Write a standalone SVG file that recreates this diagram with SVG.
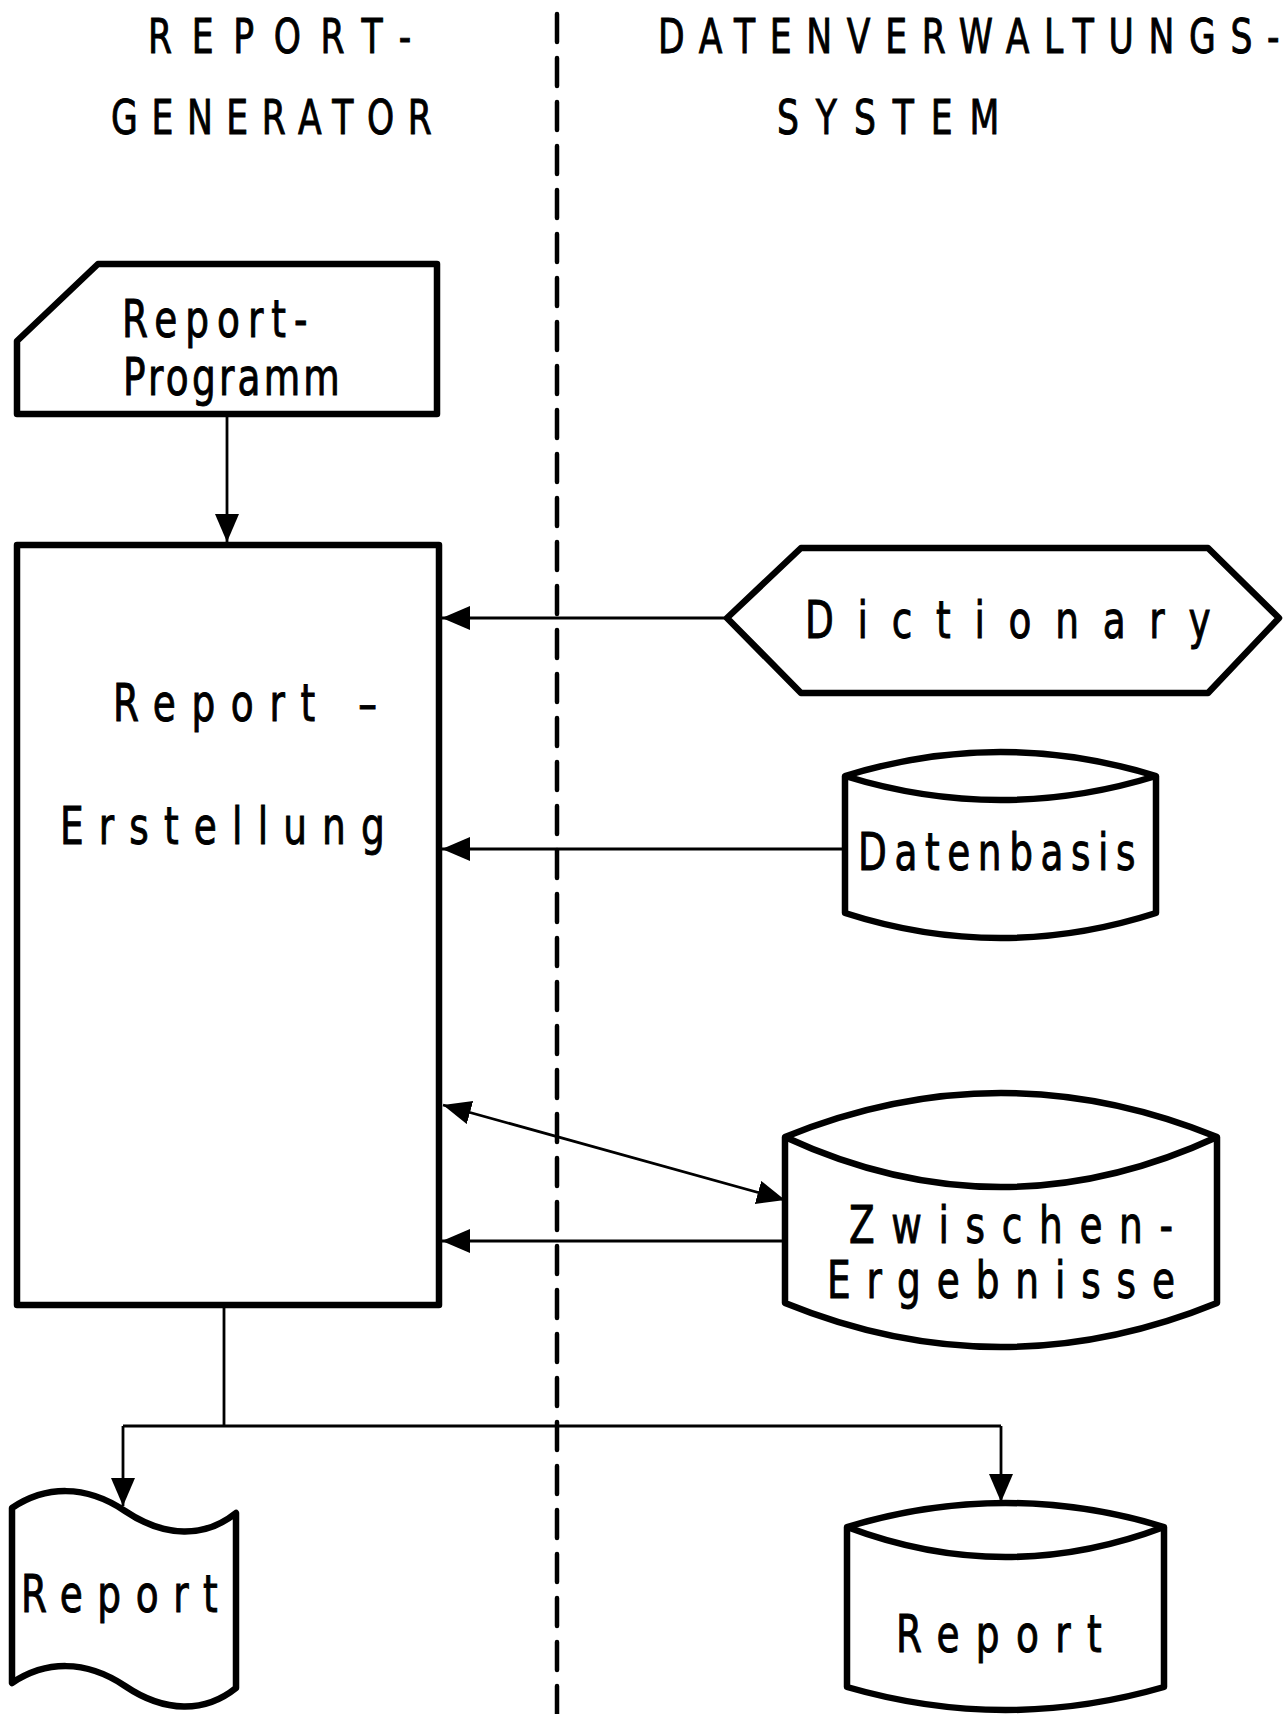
<svg xmlns="http://www.w3.org/2000/svg" width="1284" height="1714" viewBox="0 0 1284 1714">
<style>
.shape{fill:#fff;stroke:#000;stroke-width:6.5;stroke-linejoin:round}
.inner{fill:none;stroke:#000;stroke-width:6.5}
.conn{fill:none;stroke:#000;stroke-width:2.8}
.lbl{font-family:'DejaVu Sans Condensed','Liberation Sans Narrow','DejaVu Sans',sans-serif;fill:#000;stroke:#000;stroke-width:0.9;font-size:52px}
.hdr{font-family:'DejaVu Sans Condensed','Liberation Sans Narrow','DejaVu Sans',sans-serif;fill:#000;stroke:#000;stroke-width:0.9;font-size:48px}
</style>
<defs>
<marker id="ah" markerUnits="userSpaceOnUse" markerWidth="30" markerHeight="26" refX="28" refY="12" orient="auto-start-reverse">
<path d="M0,0 L28,12 L0,24 Z" fill="#000"/>
</marker>
</defs>
<rect width="1284" height="1714" fill="#fff"/>

<g id="divider">
<line x1="557" y1="14" x2="557" y2="1714" stroke="#000" stroke-width="4.5" stroke-linecap="round" stroke-dasharray="28 16"/>
</g>

<g id="headers">
<g transform="translate(148,53) scale(0.8,1)"><text class="hdr" textLength="329" lengthAdjust="spacing">REPORT-</text></g>
<g transform="translate(111,134) scale(0.8,1)"><text class="hdr" textLength="401" lengthAdjust="spacing">GENERATOR</text></g>
<g transform="translate(658,53) scale(0.8,1)"><text class="hdr" textLength="777" lengthAdjust="spacing">DATENVERWALTUNGS-</text></g>
<g transform="translate(777,134) scale(0.8,1)"><text class="hdr" textLength="278" lengthAdjust="spacing">SYSTEM</text></g>
</g>

<g id="connectors">
<line class="conn" x1="227" y1="414" x2="227" y2="542" marker-end="url(#ah)"/>
<line class="conn" x1="727" y1="618" x2="442" y2="618" marker-end="url(#ah)"/>
<line class="conn" x1="845" y1="849" x2="442" y2="849" marker-end="url(#ah)"/>
<line class="conn" x1="443" y1="1105" x2="785" y2="1200" marker-start="url(#ah)" marker-end="url(#ah)"/>
<line class="conn" x1="785" y1="1241" x2="442" y2="1241" marker-end="url(#ah)"/>
<path class="conn" d="M224,1308 V1426 M123,1426 H1001"/>
<line class="conn" x1="123" y1="1426" x2="123" y2="1506" marker-end="url(#ah)"/>
<line class="conn" x1="1001" y1="1426" x2="1001" y2="1502" marker-end="url(#ah)"/>
</g>

<g id="report-programm">
<polygon class="shape" points="17,341 98,264 437,264 437,414 17,414"/>
<g transform="translate(122,337) scale(0.8,1)"><text class="lbl" font-size="46" textLength="232" lengthAdjust="spacing">Report-</text></g>
<g transform="translate(123,395) scale(0.8,1)"><text class="lbl" font-size="46" textLength="271" lengthAdjust="spacing">Programm</text></g>
</g>

<g id="report-erstellung">
<rect class="shape" x="17" y="545" width="422" height="760"/>
<g transform="translate(113,721) scale(0.8,1)"><text class="lbl" textLength="330" lengthAdjust="spacing">Report –</text></g>
<g transform="translate(60,844) scale(0.8,1)"><text class="lbl" textLength="406" lengthAdjust="spacing">Erstellung</text></g>
</g>

<g id="dictionary">
<polygon class="shape" points="727,618 801,548 1208,548 1279,618 1208,693 801,693"/>
<g transform="translate(805,638) scale(0.8,1)"><text class="lbl" textLength="507" lengthAdjust="spacing">Dictionary</text></g>
</g>

<g id="datenbasis">
<path class="shape" d="M845,776 Q1000.5,728 1156,776 V913 Q1000.5,963 845,913 Z"/>
<path class="inner" d="M845,776 Q1000.5,824 1156,776"/>
<g transform="translate(858,870) scale(0.8,1)"><text class="lbl" textLength="347" lengthAdjust="spacing">Datenbasis</text></g>
</g>

<g id="zwischenergebnisse">
<path class="shape" d="M785,1137 Q1001,1049 1217,1137 V1303 Q1001,1391 785,1303 Z"/>
<path class="inner" d="M785,1137 Q1001,1237 1217,1137"/>
<g transform="translate(849,1243) scale(0.8,1)"><text class="lbl" textLength="405" lengthAdjust="spacing">Zwischen-</text></g>
<g transform="translate(827,1298) scale(0.8,1)"><text class="lbl" textLength="435" lengthAdjust="spacing">Ergebnisse</text></g>
</g>

<g id="report-document">
<path class="shape" d="M12,1508 C45,1486 85,1484 125,1511 C165,1538 205,1538 236,1513 L236,1688 C205,1713 165,1713 125,1686 C85,1659 45,1661 12,1683 Z"/>
<g transform="translate(21,1612) scale(0.8,1)"><text class="lbl" textLength="246" lengthAdjust="spacing">Report</text></g>
</g>

<g id="report-storage">
<path class="shape" d="M847,1527 Q1005.5,1479 1164,1527 V1687 Q1005.5,1733 847,1687 Z"/>
<path class="inner" d="M847,1527 Q1005.5,1587 1164,1527"/>
<g transform="translate(896,1652) scale(0.8,1)"><text class="lbl" textLength="257" lengthAdjust="spacing">Report</text></g>
</g>
</svg>
